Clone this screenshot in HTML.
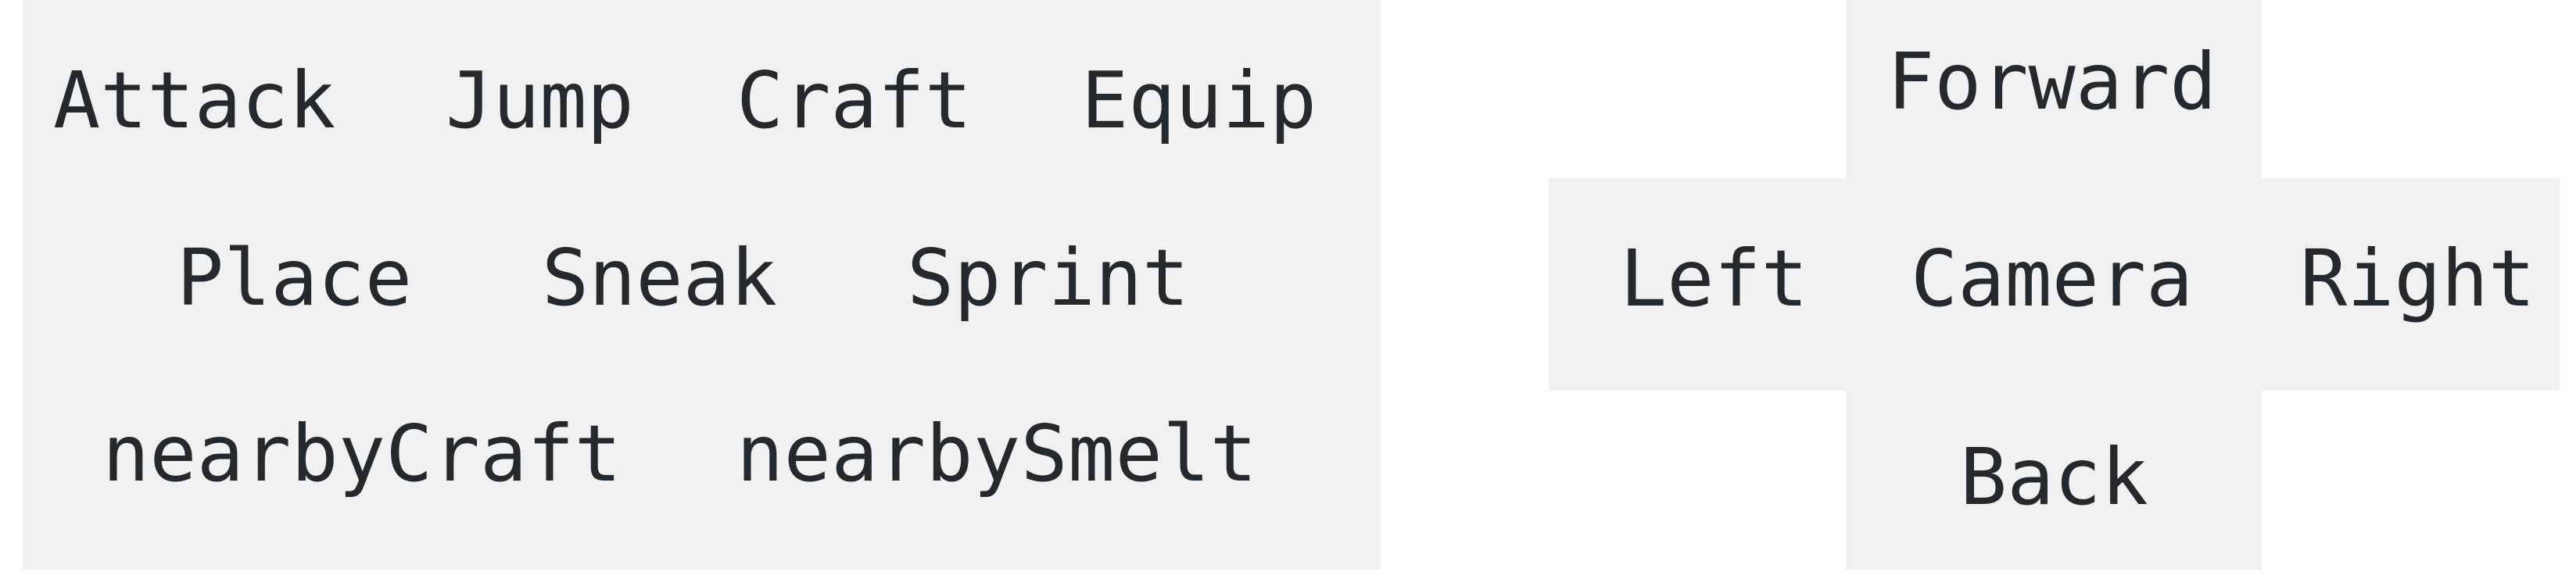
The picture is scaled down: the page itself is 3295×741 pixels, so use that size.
<!DOCTYPE html>
<html><head><style>html,body{margin:0;padding:0;background:#fff;}svg{display:block}</style></head>
<body>
<svg width="3295" height="741" viewBox="0 0 3295 741" xmlns="http://www.w3.org/2000/svg">
<rect x="29" y="0" width="1737" height="729" fill="#f1f1f1"/>
<rect x="2361" y="0" width="532" height="729" fill="#f1f1f1"/>
<rect x="1981" y="228" width="1293" height="272" fill="#f1f1f1"/>
<g font-family="'DejaVu Sans Mono','Liberation Mono',monospace" font-size="100" fill="#24292e">
<text x="68" y="163">Attack</text>
<text x="570" y="163">Jump</text>
<text x="942" y="163">Craft</text>
<text x="1383" y="163">Equip</text>
<text x="226" y="390">Place</text>
<text x="693" y="390">Sneak</text>
<text x="1160" y="390">Sprint</text>
<text x="131" y="615" textLength="664">nearbyCraft</text>
<text x="942" y="615" textLength="666">nearbySmelt</text>
<text x="2414" y="139">Forward</text>
<text x="2072" y="391">Left</text>
<text x="2444" y="391">Camera</text>
<text x="2942" y="391">Right</text>
<text x="2507" y="645">Back</text>
</g>
</svg>
</body></html>
